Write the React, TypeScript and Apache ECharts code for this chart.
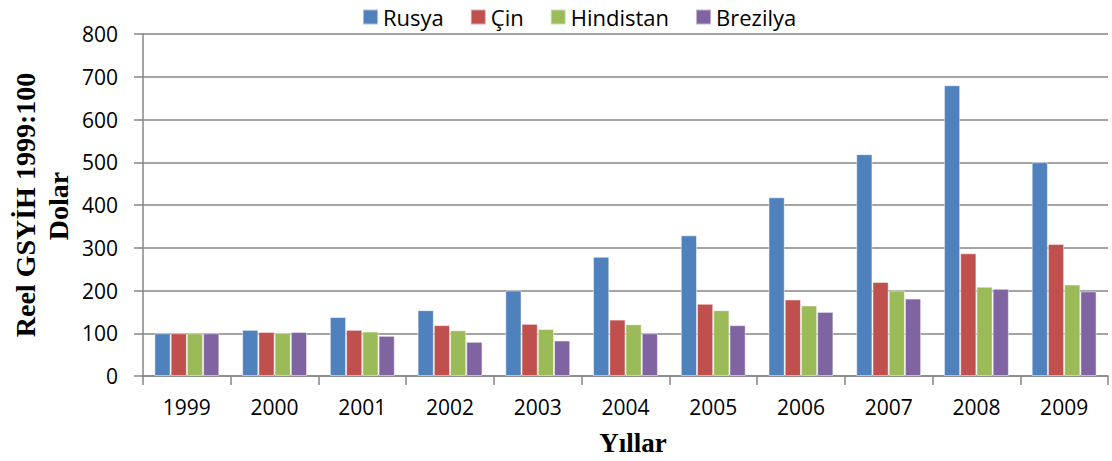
import React, { useEffect, useRef } from "react";
import * as echarts from "echarts";

const categories = ["1999", "2000", "2001", "2002", "2003", "2004", "2005", "2006", "2007", "2008", "2009"];
const rusya = [100, 108, 138, 154, 200, 279, 329, 418, 519, 680, 500];
const cin = [100, 103, 108, 119, 122, 132, 169, 179, 220, 287, 309];
const hindistan = [100, 101, 104, 107, 110, 121, 154, 165, 200, 209, 214];
const brezilya = [100, 103, 94, 80, 83, 100, 119, 150, 181, 204, 198];
const seriesNames = ["Rusya", "Çin", "Hindistan", "Brezilya"];
const colors = ["#4F81BD", "#C0504D", "#9BBB59", "#8064A2"];

export default function App() {
  const ref = useRef<HTMLDivElement>(null);
  useEffect(() => {
    if (!ref.current) return;
    const chart = echarts.init(ref.current, undefined, { renderer: "svg" });
    const data = [rusya, cin, hindistan, brezilya];
    chart.setOption({
      animation: false,
      color: colors,
      textStyle: { fontFamily: "Open Sans" },
      legend: {
        top: 1,
        left: 357,
        itemWidth: 15,
        itemHeight: 15,
        itemGap: 26,
        icon: "rect",
        textStyle: { fontSize: 22, color: "#000", fontFamily: "Open Sans" },
        data: seriesNames,
      },
      grid: { left: 143, right: 4, top: 34, bottom: 85, containLabel: false },
      xAxis: {
        type: "category",
        data: categories,
        axisLine: { lineStyle: { color: "#868686", width: 1.5 } },
        axisTick: { show: true, length: 9, lineStyle: { color: "#868686", width: 1.5 } },
        axisLabel: { color: "#000", fontSize: 21, margin: 20, fontFamily: "Open Sans" },
      },
      yAxis: {
        type: "value",
        min: 0,
        max: 800,
        interval: 100,
        axisLine: { show: true, lineStyle: { color: "#868686", width: 1.5 } },
        axisTick: { show: true, length: 9, lineStyle: { color: "#868686", width: 1.5 } },
        axisLabel: { color: "#000", fontSize: 21, margin: 25, fontFamily: "Open Sans" },
        splitLine: { lineStyle: { color: "#868686", width: 1.5 } },
      },
      graphic: [
        {
          type: "text",
          x: 25,
          y: 205,
          rotation: Math.PI / 2,
          style: {
            text: "Reel GSYİH 1999:100",
            font: "bold 28px 'Liberation Serif'",
            fill: "#000",
            align: "center",
            verticalAlign: "middle",
          },
        },
        {
          type: "text",
          x: 58,
          y: 206,
          rotation: Math.PI / 2,
          style: {
            text: "Dolar",
            font: "bold 28px 'Liberation Serif'",
            fill: "#000",
            align: "center",
            verticalAlign: "middle",
          },
        },
        {
          type: "text",
          x: 633,
          y: 443,
          style: {
            text: "Yıllar",
            font: "bold 27px 'Liberation Serif'",
            fill: "#000",
            align: "center",
            verticalAlign: "middle",
          },
        },
      ],
      series: seriesNames.map((name, i) => ({
        name,
        type: "bar",
        data: data[i],
        barGap: "0%",
        barCategoryGap: "26%",
        itemStyle: { color: colors[i], borderColor: "rgba(255,255,255,0.5)", borderWidth: 1 },
      })),
    });
    return () => chart.dispose();
  }, []);
  return <div ref={ref} style={{ position: "absolute", left: 0, top: 0, width: 1112, height: 461 }} />;
}
